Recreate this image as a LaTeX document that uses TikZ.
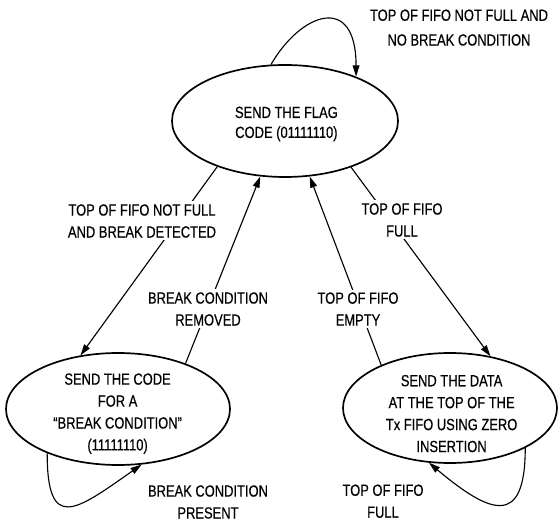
\documentclass[tikz,border=0pt]{standalone}
\usepackage{fontspec}
\newfontfamily\lblfont[FakeStretch=0.8, FakeBold=0.4]{Liberation Sans}
\newcommand{\lbl}{\lblfont\fontsize{11.5}{15.6}\selectfont}
\usetikzlibrary{shapes.geometric, arrows.meta, positioning}

\begin{document}
\begin{tikzpicture}[
		state/.style={draw, ellipse, line width=1.2pt, inner sep=0pt},
		statetext/.style={align=center, font=\lbl, inner sep=0pt},
		trans/.style={line width=0.8pt, -{Triangle[length=2.8mm,width=1.7mm]}},
		cond/.style={fill=white, inner sep=2pt, align=center, font=\lbl}
	]
		\useasboundingbox (0,0) rectangle (13.95,13);

		% Draw the three states
		\node[state, minimum width=5.65cm, minimum height=2.8cm] (flag) at (7.125,9.975) {};
		\node[state, minimum width=5.6cm, minimum height=2.8cm] (brk) at (2.95,2.775) {};
		\node[state, minimum width=5.35cm, minimum height=2.75cm] (data) at (11.25,2.8) {};

		% Add the text inside the states
		\node[statetext] (flagtxt) at (7.16,9.9) {SEND THE FLAG\\[-1.4pt]CODE (01111110)};
		\node[statetext] (brktxt) at (2.94,2.66) {SEND THE CODE\\FOR A\\“BREAK CONDITION”\\(11111110)};
		\node[statetext] (datatxt) at (11.29,2.66) {SEND THE DATA\\AT THE TOP OF THE\\Tx FIFO USING ZERO\\INSERTION};

		% Draw the transitions between states
		\draw[trans] (flag.214) -- (brk.125);
		\draw[trans] (brk.34) -- (flag.246);
		\draw[trans] (data.148) -- (flag.294);
		\draw[trans] (flag.325) -- (data.52);

		% Draw the self loops
		\draw[trans] (flag.104) .. controls +(60:1.5) and +(90:2.1) .. (flag.32);
		\draw[trans] (brk.212) .. controls +(270:2.0) and +(215:2.0) .. (brk.293);
		\draw[trans] (data.332) .. controls +(270:2.0) and +(320:2.0) .. (data.249);

		% Add the transition conditions
		\node[cond] (fullnobrk) at (11.475,12.31) {TOP OF FIFO NOT FULL AND\\[2pt]NO BREAK CONDITION};
		\node[cond] (brkdet) at (3.55,7.475) {TOP OF FIFO NOT FULL\\AND BREAK DETECTED};
		\node[cond] (brkrem) at (5.2,5.275) {BREAK CONDITION\\REMOVED};
		\node[cond] (empty) at (8.95,5.275) {TOP OF FIFO\\EMPTY};
		\node[cond] (full) at (10.05,7.5) {TOP OF FIFO\\FULL};
		\node[cond] (brkpres) at (5.2,0.45) {BREAK CONDITION\\PRESENT};
		\node[cond] (fullloop) at (9.575,0.47) {TOP OF FIFO\\FULL};

	\end{tikzpicture}
\end{document}
